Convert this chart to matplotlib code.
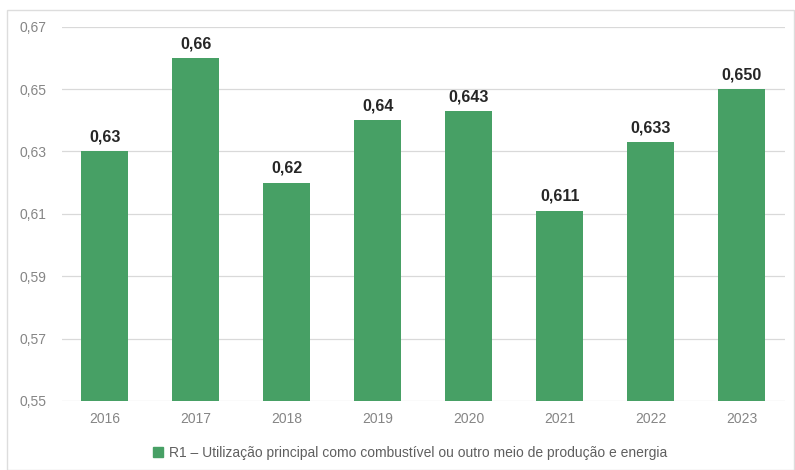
import matplotlib
matplotlib.use('Agg')
import matplotlib.pyplot as plt
from matplotlib.patches import Rectangle

years = ['2016', '2017', '2018', '2019', '2020', '2021', '2022', '2023']
values = [0.63, 0.66, 0.62, 0.64, 0.643, 0.611, 0.633, 0.650]
labels = ['0,63', '0,66', '0,62', '0,64', '0,643', '0,611', '0,633', '0,650']
yticks = [0.55, 0.57, 0.59, 0.61, 0.63, 0.65, 0.67]
ytick_labels = ['0,55', '0,57', '0,59', '0,61', '0,63', '0,65', '0,67']
series_name = 'R1 \u2013 Utilização principal como combustível ou outro meio de produção e energia'

green = '#47a065'
grey_text = '#858585'

plt.rcParams['font.family'] = ['Liberation Sans', 'DejaVu Sans']

fig = plt.figure(figsize=(7.95, 4.70), dpi=100)
fig.patch.set_facecolor('white')
# light outer frame round the whole chart
fig.patches.append(Rectangle((0.009, 0.0), 0.99, 0.978, transform=fig.transFigure,
                             fill=False, edgecolor='#dddddd', linewidth=1.0))

ax = fig.add_axes([0.078, 0.147, 0.910, 0.796])
x = range(len(years))
ax.bar(x, [v - 0.55 for v in values], bottom=0.55, width=0.52,
       color=green, zorder=3)

for xi, v, lab in zip(x, values, labels):
    ax.text(xi, v + 0.0022, lab, ha='center', va='bottom',
            fontsize=11.5, fontweight='bold', color='#262626')

ax.set_ylim(0.55, 0.67)
ax.set_xlim(-0.47, 7.48)
ax.set_yticks(yticks)
ax.set_yticklabels(ytick_labels)
ax.set_xticks(list(x))
ax.set_xticklabels(years)
ax.tick_params(axis='both', length=0, colors=grey_text, labelsize=10)
ax.tick_params(axis='y', pad=11)
ax.tick_params(axis='x', pad=8)
ax.grid(axis='y', color='#d9d9d9', linewidth=0.9, zorder=0)
for s in ax.spines.values():
    s.set_visible(False)

handle = Rectangle((0, 0), 1, 1, color=green)
fig.legend([handle], [series_name], loc='center', bbox_to_anchor=(0.516, 0.037),
           frameon=False, fontsize=10, handlelength=0.7, handleheight=0.7,
           handletextpad=0.4, labelcolor='#5f5f5f')

fig.savefig('out.png', dpi=100)
